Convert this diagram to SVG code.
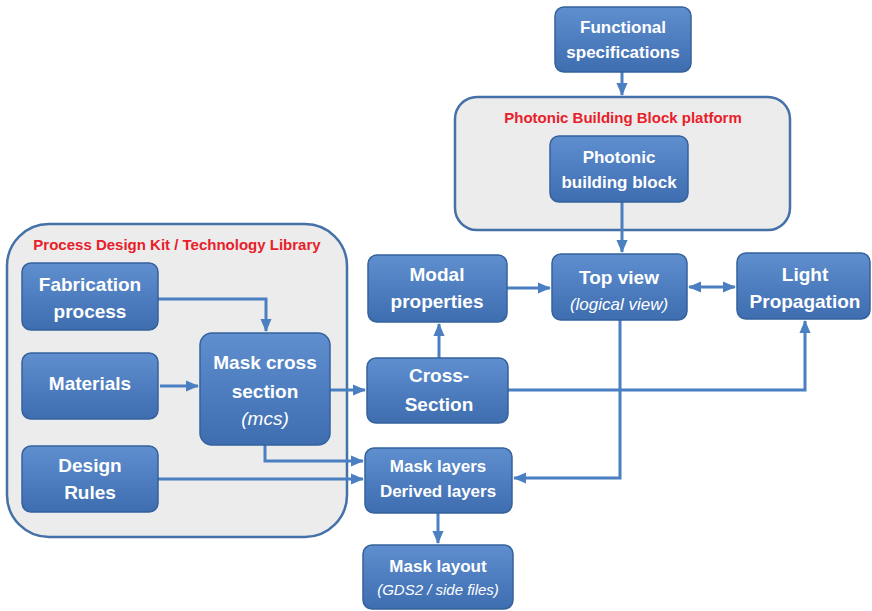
<svg xmlns="http://www.w3.org/2000/svg" width="872" height="611" viewBox="0 0 872 611">
<defs>
<linearGradient id="g" x1="0" y1="0" x2="0" y2="1">
<stop offset="0" stop-color="#5f8fcf"/>
<stop offset="1" stop-color="#3e6db0"/>
</linearGradient>
<marker id="a" markerUnits="userSpaceOnUse" markerWidth="13" markerHeight="13" viewBox="0 0 14 14" refX="13" refY="7" orient="auto-start-reverse">
<path d="M0,1 L14,7 L0,13 Z" fill="#4a7fc1"/>
</marker>
</defs>
<style>
.c{fill:#ececec;stroke:#4471a8;stroke-width:2.5}
.n{fill:url(#g);stroke:#35619c;stroke-width:1.5}
.t{font-family:"Liberation Sans",Arial,sans-serif;font-weight:bold;fill:#fff;text-anchor:middle;font-size:19px}
.s{font-size:17px}
.i{font-weight:normal;font-style:italic;font-size:17px}
.r{font-family:"Liberation Sans",Arial,sans-serif;font-weight:bold;fill:#e8202a;text-anchor:middle;font-size:15px}
.l{fill:none;stroke:#4a7fc1;stroke-width:3}
</style>
<rect width="872" height="611" fill="#fff"/>
<g id="pdk">
<rect class="c" x="7" y="224" width="340" height="313" rx="42"/>
<text class="r" x="177" y="250">Process Design Kit / Technology Library</text>
</g>
<g id="pbb-platform">
<rect class="c" x="455" y="97" width="335" height="133" rx="22"/>
<text class="r" x="623" y="123">Photonic Building Block platform</text>
</g>
<g id="connectors">
<path class="l" d="M622,72 V95" marker-end="url(#a)"/>
<path class="l" d="M622,202 V252" marker-end="url(#a)"/>
<path class="l" d="M158,299 H266 V331" marker-end="url(#a)"/>
<path class="l" d="M160,386 H198" marker-end="url(#a)"/>
<path class="l" d="M330,390 H365" marker-end="url(#a)"/>
<path class="l" d="M265,445 V461 H363" marker-end="url(#a)"/>
<path class="l" d="M158,479 H363" marker-end="url(#a)"/>
<path class="l" d="M439,358 V324" marker-end="url(#a)"/>
<path class="l" d="M507,288 H550" marker-end="url(#a)"/>
<path class="l" d="M689,287 H735" marker-start="url(#a)" marker-end="url(#a)"/>
<path class="l" d="M508,390 H805 V321" marker-end="url(#a)"/>
<path class="l" d="M620,320 V478 H514" marker-end="url(#a)"/>
<path class="l" d="M438,513 V543" marker-end="url(#a)"/>
</g>
<g id="functional-specifications">
<rect class="n" x="555" y="7" width="136" height="65" rx="9"/>
<text class="t s" x="623" y="33">Functional</text>
<text class="t s" x="623" y="58">specifications</text>
</g>
<g id="photonic-building-block">
<rect class="n" x="550" y="136" width="138" height="66" rx="9"/>
<text class="t s" x="619" y="163">Photonic</text>
<text class="t s" x="619" y="188">building block</text>
</g>
<g id="fabrication-process">
<rect class="n" x="22" y="263" width="136" height="67" rx="9"/>
<text class="t" x="90" y="291">Fabrication</text>
<text class="t" x="90" y="318">process</text>
</g>
<g id="materials">
<rect class="n" x="22" y="353" width="136" height="66" rx="9"/>
<text class="t" x="90" y="390">Materials</text>
</g>
<g id="design-rules">
<rect class="n" x="22" y="446" width="136" height="66" rx="9"/>
<text class="t" x="90" y="472">Design</text>
<text class="t" x="90" y="499">Rules</text>
</g>
<g id="mask-cross-section">
<rect class="n" x="200" y="333" width="130" height="112" rx="12"/>
<text class="t" x="265" y="369">Mask cross</text>
<text class="t" x="265" y="398">section</text>
<text class="t i" x="265" y="425" style="font-size:19px">(mcs)</text>
</g>
<g id="modal-properties">
<rect class="n" x="368" y="255" width="139" height="67" rx="9"/>
<text class="t" x="437" y="281">Modal</text>
<text class="t" x="437" y="308">properties</text>
</g>
<g id="top-view">
<rect class="n" x="552" y="254" width="135" height="66" rx="9"/>
<text class="t" x="619" y="284">Top view</text>
<text class="t i" x="619" y="310">(logical view)</text>
</g>
<g id="light-propagation">
<rect class="n" x="737" y="253" width="133" height="66" rx="9"/>
<text class="t" x="805" y="281">Light</text>
<text class="t" x="805" y="308">Propagation</text>
</g>
<g id="cross-section">
<rect class="n" x="367" y="358" width="141" height="65" rx="9"/>
<text class="t" x="439" y="382">Cross-</text>
<text class="t" x="439" y="411">Section</text>
</g>
<g id="mask-layers">
<rect class="n" x="365" y="448" width="147" height="65" rx="9"/>
<text class="t s" x="438" y="472">Mask layers</text>
<text class="t s" x="438" y="497">Derived layers</text>
</g>
<g id="mask-layout">
<rect class="n" x="363" y="545" width="150" height="64" rx="9"/>
<text class="t s" x="438" y="572">Mask layout</text>
<text class="t i" x="438" y="595" style="font-size:15px">(GDS2 / side files)</text>
</g>
</svg>
